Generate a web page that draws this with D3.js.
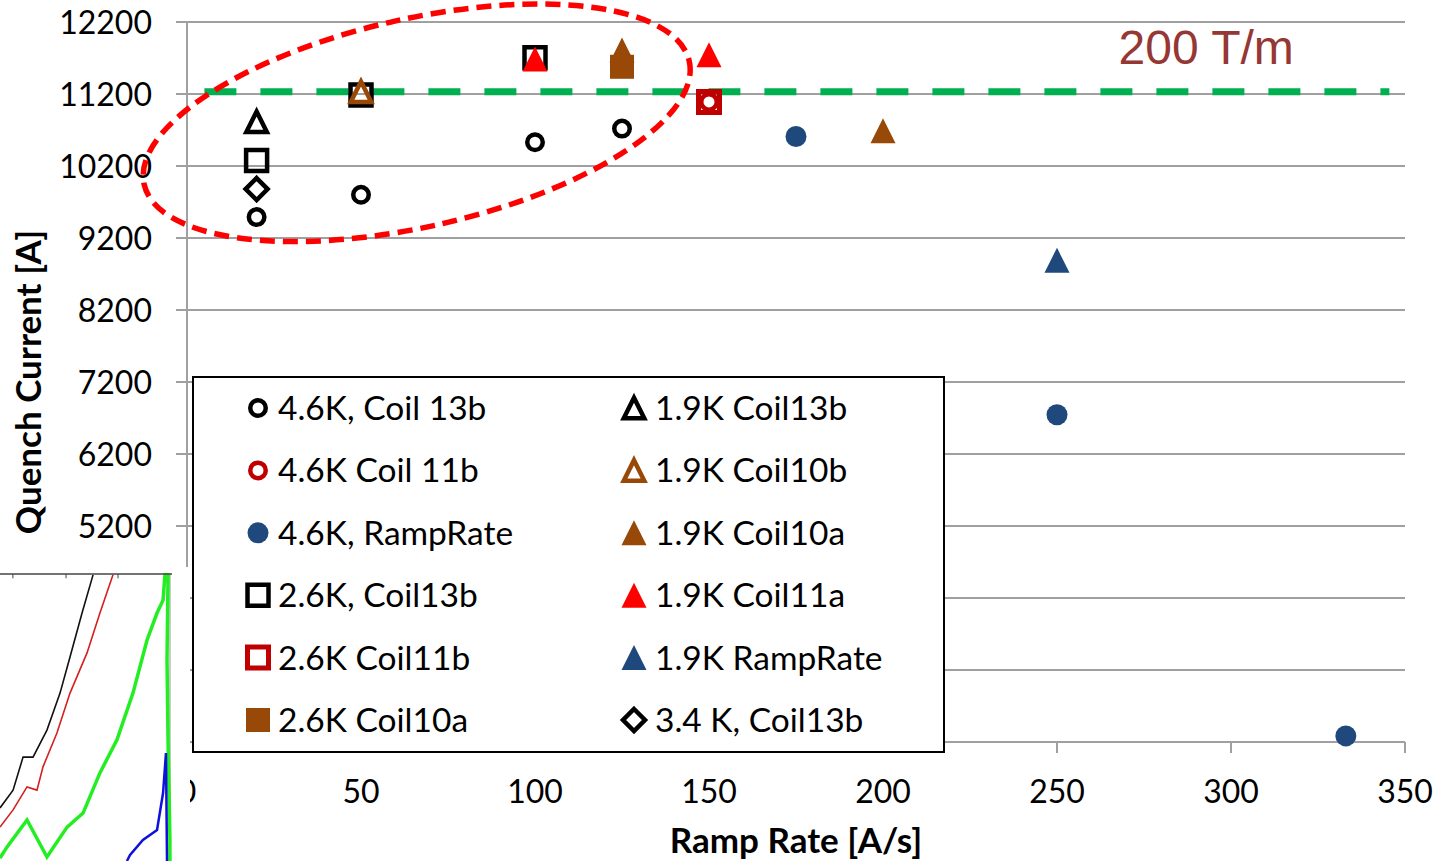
<!DOCTYPE html>
<html><head><meta charset="utf-8">
<script src="https://cdn.jsdelivr.net/npm/d3@7"></script>
<style>body{margin:0;background:#fff}svg{display:block}</style>
</head><body>
<script>
// ---------- data ----------
const xTicks = [0, 50, 100, 150, 200, 250, 300, 350];
const yTicks = [12200, 11200, 10200, 9200, 8200, 7200, 6200, 5200, 4200, 3200, 2200];

const s46_13b  = [[20, 9490], [50, 9800], [100, 10530], [125, 10720]];
const s46_11b  = [[150, 11090]];
const s46_ramp = [[175, 10610], [250, 6745], [333, 2285]];
const s26_13b  = [[20, 10275], [50, 11185], [100, 11705]];
const s26_11b  = [[150, 11090]];
const s26_10a  = [[125, 11578]];
const s19_13b  = [[20, 10815]];
const s19_10b  = [[50, 11230]];
const s19_10a  = [[125, 11810], [200, 10690]];
const s19_11a  = [[100, 11685], [150, 11745]];
const s19_ramp = [[250, 8890]];
const s34_13b  = [[20, 9880]];

const seriesLabels = ["4.6K, Coil 13b", "4.6K Coil 11b", "4.6K, RampRate", "2.6K, Coil13b", "2.6K Coil11b", "2.6K Coil10a",
                      "1.9K Coil13b", "1.9K Coil10b", "1.9K Coil10a", "1.9K Coil11a", "1.9K RampRate", "3.4 K, Coil13b"];
const seriesData = [s46_13b, s46_11b, s46_ramp, s26_13b, s26_11b, s26_10a, s19_13b, s19_10b, s19_10a, s19_11a, s19_ramp, s34_13b];
const seriesShape = ["circle", "circle", "circle", "square", "square", "square", "triangle", "triangle", "triangle", "triangle", "triangle", "diamond"];
const seriesFilled = [false, false, true, false, false, true, false, false, true, true, true, false];
const seriesColor = ["#000000", "#c00000", "#1f497d", "#000000", "#c00000", "#984807", "#000000", "#984807", "#984807", "#ff0000", "#1f497d", "#000000"];

const refLevel = 11230;           // 200 T/m line
const refRange = [5, 345.5];
const refLabel = "200 T/m";

// inset (overlaid picture) traces, in its own 0-100 units
const insetBlack = [[0,18.5],[7.6,24.7],[13.4,36.2],[19.2,36.2],[27.3,45.6],[34.9,58.5],[40.7,71.1],[47.7,86.4],[54.1,99.7]];
const insetRed   = [[0,11.8],[7.6,17.8],[15.7,25.8],[21.5,24.7],[25,32.8],[33.1,44.6],[40.7,58.5],[50.6,72.5],[58.1,86.4],[65.7,99.7]];
const insetGreen = [[0,1],[4.1,4.9],[15.7,14.3],[27.3,1.4],[39,11.8],[48.3,16.7],[58.1,30.7],[68,42.2],[77.3,58.5],[85.5,77],[91.3,86.4],[94.8,90.9],[95.9,99.7],[97.7,99.7],[97.1,70],[97.7,42.2],[98.8,7.3],[98.8,0]];
const insetBlue  = [[73.8,0],[75.6,2.1],[83.1,7.3],[91.3,10.8],[94.8,23.7],[96.5,37.6],[97.1,0]];

// ---------- layout ----------
const W = 1444, H = 861;
const x = d3.scaleLinear().domain([0, 350]).range([187, 1405]);
const y = d3.scaleLinear().domain([2200, 12200]).range([742, 22]);
const FONT = "Lato, 'Open Sans', sans-serif";

const svg = d3.select("body").append("svg").attr("width", W).attr("height", H);

// gridlines
svg.append("g").selectAll("line").data(yTicks).join("line")
  .attr("x1", 176).attr("x2", x(350)).attr("y1", d => y(d)).attr("y2", d => y(d))
  .attr("stroke", "#a0a0a0").attr("stroke-width", 2);

// y axis line
svg.append("line").attr("x1", x(0)).attr("x2", x(0)).attr("y1", y(12200)).attr("y2", y(2200))
  .attr("stroke", "#a0a0a0").attr("stroke-width", 2);
// x axis ticks
svg.append("g").selectAll("line").data(xTicks).join("line")
  .attr("x1", d => x(d)).attr("x2", d => x(d)).attr("y1", y(2200)).attr("y2", y(2200) + 11)
  .attr("stroke", "#a0a0a0").attr("stroke-width", 2);

// y tick labels
svg.append("g").selectAll("text").data(yTicks).join("text")
  .attr("x", 152).attr("y", d => y(d)).attr("dy", "0.36em").attr("text-anchor", "end")
  .attr("font-family", FONT).attr("font-size", 32).attr("fill", "#000").text(d => d);
// x tick labels
svg.append("g").selectAll("text").data(xTicks).join("text")
  .attr("x", d => x(d)).attr("y", 803).attr("text-anchor", "middle")
  .attr("font-family", FONT).attr("font-size", 32).attr("fill", "#000").text(d => d);

// axis titles
svg.append("text").attr("x", 796).attr("y", 853).attr("text-anchor", "middle")
  .attr("font-family", FONT).attr("font-weight", "bold").attr("font-size", 35).text("Ramp Rate [A/s]");
svg.append("text").attr("transform", "translate(41,382) rotate(-90)").attr("text-anchor", "middle")
  .attr("font-family", FONT).attr("font-weight", "bold").attr("font-size", 35).text("Quench Current [A]");

// reference line
svg.append("line").attr("x1", x(refRange[0])).attr("x2", x(refRange[1])).attr("y1", y(refLevel)).attr("y2", y(refLevel))
  .attr("stroke", "#00b050").attr("stroke-width", 7).attr("stroke-dasharray", "32 24");
svg.append("text").attr("x", x(267.7)).attr("y", y(11620)).attr("font-family", "'Liberation Sans', Arial, sans-serif")
  .attr("font-size", 48).attr("fill", "#953735").text(refLabel);

// markers
function markerPath(shape, s) {
  const h = s / 2;
  if (shape === "square") return `M${-h},${-h}H${h}V${h}H${-h}Z`;
  if (shape === "triangle") return `M0,${-h}L${h},${h}L${-h},${h}Z`;
  if (shape === "diamond") return `M0,${-h}L${h},0L0,${h}L${-h},0Z`;
  return d3.arc()({innerRadius: 0, outerRadius: h, startAngle: 0, endAngle: 2 * Math.PI});
}
function markerStyle(sel, i) {
  const shape = seriesShape[i], filled = seriesFilled[i], col = seriesColor[i];
  let size, sw;
  if (shape === "circle") { size = filled ? 21 : 15.5; sw = 4.5; }
  else if (shape === "square") { size = filled ? 24 : 21; sw = col === "#c00000" ? 5 : 4.5; }
  else if (shape === "triangle") { size = filled ? 25 : 20.5; sw = 4.5; }
  else { size = 22; sw = 4.5; }
  sel.attr("d", markerPath(shape, size))
    .attr("fill", filled ? col : "none")
    .attr("stroke", filled ? "none" : col)
    .attr("stroke-width", sw).attr("stroke-linejoin", "miter");
}

seriesData.forEach((data, i) => {
  svg.append("g").selectAll("path").data(data).join("path")
    .attr("transform", d => `translate(${x(d[0])},${y(d[1])})`)
    .call(sel => markerStyle(sel, i));
});

// red dashed ellipse annotation
const ell = {cx: 66, cy: 10800, rx: 80.3, ry: 1445, angle: -12.75};
svg.append("ellipse")
  .attr("transform", `translate(${x(ell.cx)},${y(ell.cy)}) rotate(${ell.angle})`)
  .attr("rx", x(ell.rx) - x(0)).attr("ry", y(12200 - ell.ry) - y(12200))
  .attr("fill", "none").attr("stroke", "#ff0000").attr("stroke-width", 5.5).attr("stroke-dasharray", "15 8");

// legend
const lg = svg.append("g");
lg.append("rect").attr("x", 193).attr("y", 377).attr("width", 751).attr("height", 375)
  .attr("fill", "#fff").attr("stroke", "#000").attr("stroke-width", 2);
const rowY = d3.scaleLinear().domain([0, 5]).range([408, 720]);
seriesLabels.forEach((lab, i) => {
  const col = Math.floor(i / 6), row = i % 6;
  const mx = col === 0 ? 258 : 634, tx = col === 0 ? 278 : 655;
  lg.append("path").attr("transform", `translate(${mx},${rowY(row)})`).call(sel => markerStyle(sel, i));
  lg.append("text").attr("x", tx).attr("y", rowY(row)).attr("dy", "0.36em")
    .attr("font-family", FONT).attr("font-size", 33.5).attr("fill", "#000").text(lab);
});

// overlaid inset picture (bottom-left)
const ix = d3.scaleLinear().domain([0, 100]).range([0, 172]);
const iy = d3.scaleLinear().domain([0, 100]).range([861, 574]);
const inset = svg.append("g");
inset.append("rect").attr("x", 0).attr("y", 567).attr("width", 190).attr("height", H - 567).attr("fill", "#fff");
inset.append("line").attr("x1", ix(98.8)).attr("x2", ix(98.8)).attr("y1", iy(100)).attr("y2", iy(0))
  .attr("stroke", "#c8c8c8").attr("stroke-width", 2);
const line = d3.line().x(d => ix(d[0])).y(d => iy(d[1]));
[[insetBlack, "#111", 1.6], [insetRed, "#d42020", 1.6], [insetGreen, "#22ee22", 3.5], [insetBlue, "#1010dd", 2.5]]
  .forEach(([d, c, w]) => inset.append("path").attr("d", line(d)).attr("fill", "none").attr("stroke", c).attr("stroke-width", w));
inset.append("line").attr("x1", 0).attr("x2", ix(100)).attr("y1", iy(100)).attr("y2", iy(100))
  .attr("stroke", "#444").attr("stroke-width", 1.5);
inset.append("g").selectAll("line").data([7.5, 38.4, 68.6]).join("line")
  .attr("x1", d => ix(d)).attr("x2", d => ix(d)).attr("y1", iy(100)).attr("y2", iy(98.5))
  .attr("stroke", "#444").attr("stroke-width", 1);
</script>
</body></html>
